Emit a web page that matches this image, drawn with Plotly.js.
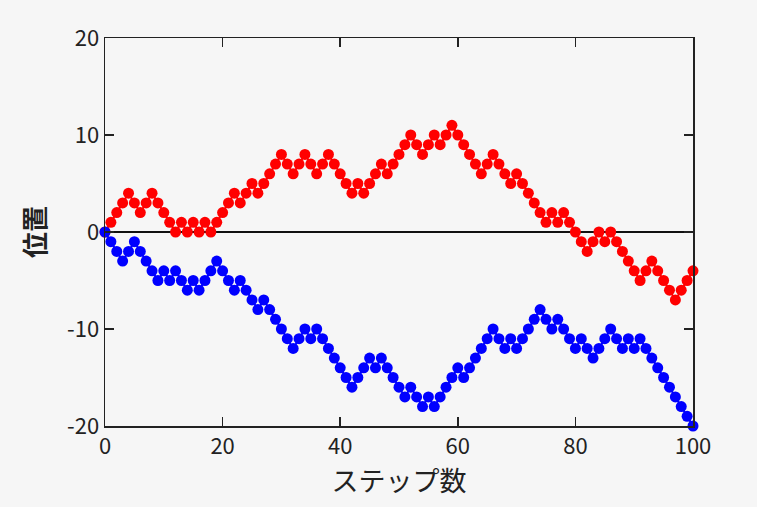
<!DOCTYPE html>
<html>
<head>
<meta charset="utf-8">
<script src="https://cdn.plot.ly/plotly-3.0.1.min.js"></script>
<style>html,body{margin:0;padding:0;background:#f6f6f6;}#chart{width:757px;height:507px;}</style>
</head>
<body>
<div id="chart"></div>
<script>
const steps = Array.from({length: 101}, (_, i) => i);
const redWalk = [0,1,2,3,4,3,2,3,4,3,2,1,0,1,0,1,0,1,0,1,
  2,3,4,3,4,5,4,5,6,7,8,7,6,7,8,7,6,7,8,7,
  6,5,4,5,4,5,6,7,6,7,8,9,10,9,8,9,10,9,10,11,
  10,9,8,7,6,7,8,7,6,5,6,5,4,3,2,1,2,1,2,1,
  0,-1,-2,-1,0,-1,0,-1,-2,-3,-4,-5,-4,-3,-4,-5,-6,-7,-6,-5,-4];
const blueWalk = [0,-1,-2,-3,-2,-1,-2,-3,-4,-5,-4,-5,-4,-5,-6,-5,-6,-5,-4,-3,
  -4,-5,-6,-5,-6,-7,-8,-7,-8,-9,-10,-11,-12,-11,-10,-11,-10,-11,-12,-13,
  -14,-15,-16,-15,-14,-13,-14,-13,-14,-15,-16,-17,-16,-17,-18,-17,-18,-17,-16,-15,
  -14,-15,-14,-13,-12,-11,-10,-11,-12,-11,-12,-11,-10,-9,-8,-9,-10,-9,-10,-11,
  -12,-11,-12,-13,-12,-11,-10,-11,-12,-11,-12,-11,-12,-13,-14,-15,-16,-17,-18,-19,-20];
const xTicks = [0,20,40,60,80,100];
const yTicks = [-20,-10,0,10,20];
const xLabel = 'ステップ数';
const yLabel = '位置';

const font = 'Noto Sans CJK JP, Noto Sans, sans-serif';
const traces = [
  {x: steps, y: redWalk, mode: 'lines+markers', cliponaxis: false,
   line: {color: '#ff0000', width: 2}, marker: {color: '#ff0000', size: 11}},
  {x: steps, y: blueWalk, mode: 'lines+markers', cliponaxis: false,
   line: {color: '#0000ff', width: 2}, marker: {color: '#0000ff', size: 11}}
];
const axisCommon = {
  showgrid: false, showline: true, linecolor: '#222', linewidth: 1.5, mirror: 'ticks',
  ticks: 'inside', tickcolor: '#222', tickwidth: 1.5, ticklen: 9,
  tickfont: {family: font, size: 22, color: '#222'}
};
const layout = {
  width: 757, height: 507,
  margin: {l: 105, r: 64, t: 38, b: 81},
  paper_bgcolor: '#f6f6f6', plot_bgcolor: '#f6f6f6',
  showlegend: false,
  xaxis: Object.assign({}, axisCommon, {
    range: [0, 100], tickvals: xTicks, zeroline: false,
    title: {text: xLabel, font: {family: font, size: 27, color: '#222'}, standoff: 8}
  }),
  yaxis: Object.assign({}, axisCommon, {
    range: [-20, 20], tickvals: yTicks, ticktext: yTicks.map(String),
    zeroline: true, zerolinecolor: '#111', zerolinewidth: 1.5,
    title: {text: yLabel, font: {family: font, size: 26, color: '#222', weight: 'bold'}, standoff: 14}
  })
};
Plotly.newPlot('chart', traces, layout, {displayModeBar: false, staticPlot: true});
</script>
</body>
</html>
